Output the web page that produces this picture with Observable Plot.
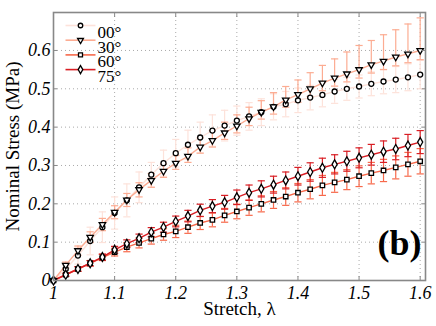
<!DOCTYPE html>
<html><head><meta charset="utf-8">
<script src="https://cdn.jsdelivr.net/npm/d3@7"></script>
<script src="https://cdn.jsdelivr.net/npm/@observablehq/plot@0.6"></script>
<style>
body{margin:0;background:#fff} svg{display:block}
g[aria-label$="tick label"] text, g[aria-label$="tick label"]{font-style:italic}
</style>
</head><body><div id="chart"></div>
<script>
const stretch = [1.00,1.02,1.04,1.06,1.08,1.10,1.12,1.14,1.16,1.18,1.20,1.22,1.24,1.26,1.28,1.30,1.32,1.34,1.36,1.38,1.40,1.42,1.44,1.46,1.48,1.50,1.52,1.54,1.56,1.58,1.60];
const seriesNames = ["00°","30°","60°","75°"];
const stress00 = [0,0.030,0.065,0.103,0.139,0.176,0.209,0.243,0.276,0.306,0.332,0.354,0.373,0.391,0.404,0.417,0.428,0.439,0.453,0.460,0.470,0.477,0.484,0.493,0.500,0.506,0.513,0.519,0.524,0.530,0.537];
const stress30 = [0,0.040,0.078,0.113,0.146,0.178,0.210,0.237,0.261,0.285,0.306,0.324,0.348,0.365,0.385,0.403,0.422,0.439,0.453,0.471,0.485,0.500,0.515,0.528,0.539,0.550,0.563,0.572,0.583,0.591,0.600];
const stress60 = [0,0.015,0.030,0.045,0.060,0.074,0.087,0.098,0.109,0.120,0.128,0.139,0.150,0.158,0.170,0.180,0.190,0.200,0.210,0.219,0.229,0.238,0.248,0.256,0.263,0.272,0.280,0.287,0.295,0.303,0.311];
const stress75 = [0,0.015,0.030,0.045,0.061,0.080,0.096,0.110,0.126,0.139,0.154,0.168,0.183,0.194,0.204,0.217,0.229,0.239,0.250,0.261,0.272,0.283,0.294,0.303,0.311,0.320,0.328,0.336,0.343,0.352,0.361];
// error bar half-lengths (upper / lower)
const err00 = [0,0.010,0.022,0.036,0.040,0.042,0.043,0.040,0.032,0.034,0.036,0.038,0.040,0.041,0.040,0.038,0.036,0.035,0.034,0.033,0.032,0.032,0.031,0.031,0.030,0.030,0.031,0.032,0.034,0.035,0.037];
const err30Up = [0,0.008,0.012,0.014,0.016,0.017,0.017,0.018,0.018,0.019,0.020,0.022,0.024,0.026,0.028,0.029,0.030,0.030,0.037,0.035,0.038,0.042,0.046,0.050,0.057,0.063,0.063,0.069,0.071,0.078,0.085];
const err30Low = [0,0.008,0.012,0.014,0.016,0.017,0.017,0.019,0.018,0.016,0.016,0.016,0.016,0.017,0.017,0.018,0.018,0.018,0.019,0.019,0.020,0.020,0.020,0.021,0.021,0.022,0.022,0.022,0.023,0.023,0.024];
const err60 = [0,0.004,0.006,0.007,0.008,0.010,0.012,0.013,0.014,0.015,0.016,0.016,0.017,0.018,0.018,0.019,0.020,0.021,0.022,0.023,0.024,0.025,0.026,0.026,0.026,0.027,0.028,0.029,0.030,0.031,0.033];
const err75 = [0,0.004,0.006,0.007,0.008,0.009,0.010,0.011,0.012,0.013,0.014,0.015,0.016,0.017,0.018,0.019,0.020,0.021,0.022,0.022,0.023,0.024,0.025,0.025,0.026,0.026,0.027,0.028,0.028,0.029,0.030];
const xTicks = [1,1.1,1.2,1.3,1.4,1.5,1.6];
const xTickLabels = ["1","1.1","1.2","1.3","1.4","1.5","1.6"];
const yTicks = [0,0.1,0.2,0.3,0.4,0.5,0.6];
const yTickLabels = ["0","0.1","0.2","0.3","0.4","0.5","0.6"];
const colors = ["#fde2da","#fcac92","#f7694b","#d91e24"];

const capSymbol = {draw(ctx, size){const r = Math.sqrt(size/Math.PI); ctx.moveTo(-r,0); ctx.lineTo(r,0);}};
const legendLine = {draw(ctx, size){const r = Math.sqrt(size/Math.PI); ctx.moveTo(-r,0); ctx.lineTo(r,0);}};
const triDown = {draw(ctx, size){
  const s3 = Math.sqrt(3); const y = -Math.sqrt(size/(s3*3));
  ctx.moveTo(0,-2*y); ctx.lineTo(-s3*y, y); ctx.lineTo(s3*y, y); ctx.closePath();}};
const symbols = ["circle", triDown, "square", "diamond"];
const symR = [2.5, 2.4, 2.5, 2.7];

const series = [stress00, stress30, stress60, stress75];
const errsUp = [err00, err30Up, err60, err75];
const errsLow = [err00, err30Low, err60, err75];
const data = series.map((vals, s) => stretch.map((x, i) => ({
  x, y: vals[i], lo: vals[i] - errsLow[s][i], hi: vals[i] + errsUp[s][i], name: seriesNames[s]
})));

const errMarks = data.flatMap((d, s) => [
  Plot.ruleX(d.filter(p => p.hi > p.lo), {x: "x", y1: "lo", y2: "hi", stroke: colors[s], strokeWidth: 1.2}),
  Plot.dot(d.filter(p => p.hi > p.lo), {x: "x", y: "hi", symbol: capSymbol, r: 3.6, stroke: colors[s], strokeWidth: 1.2}),
  Plot.dot(d.filter(p => p.hi > p.lo), {x: "x", y: "lo", symbol: capSymbol, r: 3.6, stroke: colors[s], strokeWidth: 1.2})
]);
const lineMarks = data.map((d, s) => Plot.line(d, {x: "x", y: "y", stroke: colors[s], strokeWidth: 1.4}));
const dotMarks = data.map((d, s) => Plot.dot(d, {x: "x", y: "y", symbol: symbols[s], r: symR[s], fill: "white", stroke: "black", strokeWidth: 1.3}));

const legendMarks = seriesNames.flatMap((name, s) => [
  Plot.dot([name], {frameAnchor: "top-left", dx: 27, dy: 13 + s*14.7, symbol: legendLine, r: 15, stroke: colors[s], strokeWidth: 1.6}),
  Plot.dot([name], {frameAnchor: "top-left", dx: 27, dy: 13 + s*14.7, symbol: symbols[s], r: symR[s]*0.9, fill: "white", stroke: "black", strokeWidth: 1.3}),
  Plot.text([name], {frameAnchor: "top-left", dx: 44, dy: 13.5 + s*14.7, text: d => d, textAnchor: "start", fontSize: 17, fill: "black"})
]);

const chart = Plot.plot({
  width: 436, height: 326,
  marginLeft: 53, marginRight: 11, marginTop: 12, marginBottom: 46,
  x: {domain: [1, 1.6087]},
  y: {domain: [0, 0.699]},
  style: {fontFamily: "'Liberation Serif', 'DejaVu Serif', serif", background: "#fff"},
  marks: [
    Plot.gridX(xTicks, {stroke: "#aaa", strokeOpacity: 1, strokeDasharray: "1,3"}),
    Plot.gridY(yTicks, {stroke: "#aaa", strokeOpacity: 1, strokeDasharray: "1,3"}),
    ...errMarks,
    ...lineMarks,
    ...dotMarks,
    Plot.frame({stroke: "#888", strokeWidth: 1.6}),
    Plot.axisX(xTicks, {anchor: "bottom", tickSize: 0, tickPadding: 6, tickFormat: (d, i) => xTickLabels[i], fontSize: 18, label: null, fill: "black"}),
    Plot.axisY(yTicks, {anchor: "left", tickSize: 0, tickPadding: 3, tickFormat: (d, i) => yTickLabels[i], fontSize: 18, label: null, fill: "black"}),
    Plot.axisX(xTicks, {anchor: "bottom", tickSize: -4, tickFormat: () => "", label: null, stroke: "#888"}),
    Plot.axisX(xTicks, {anchor: "top", tickSize: -4, tickFormat: () => "", label: null, stroke: "#888"}),
    Plot.axisY(yTicks, {anchor: "left", tickSize: -4, tickFormat: () => "", label: null, stroke: "#888"}),
    Plot.axisY(yTicks, {anchor: "right", tickSize: -4, tickFormat: () => "", label: null, stroke: "#888"}),
    Plot.text(["Stretch, λ"], {frameAnchor: "bottom", dy: 34, text: d => d, fontSize: 19, fill: "black"}),
    Plot.text(["Nominal Stress (MPa)"], {frameAnchor: "left", dx: -41, rotate: -90, textAnchor: "middle", text: d => d, fontSize: 19, fill: "black"}),
    Plot.text(["(b)"], {frameAnchor: "bottom-right", dx: -4, dy: -26, text: d => d, fontSize: 36, fontWeight: "bold", textAnchor: "end", fill: "black"}),
    ...legendMarks
  ]
});
document.getElementById("chart").appendChild(chart);
</script>
</body></html>
